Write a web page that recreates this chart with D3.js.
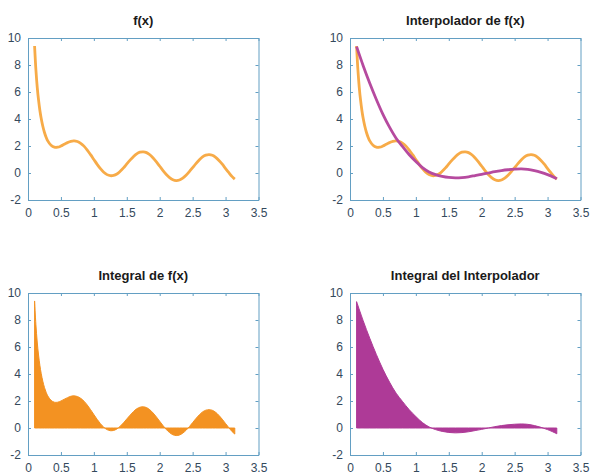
<!DOCTYPE html>
<html>
<head>
<meta charset="utf-8">
<script src="https://cdn.jsdelivr.net/npm/d3@7/dist/d3.min.js"></script>
<style>
  html, body { margin: 0; padding: 0; background: #fff; }
  svg { display: block; }
  .tick text { font-family: "Liberation Sans", Arial, sans-serif; font-size: 12px; fill: #34495c; }
  .title { font-family: "Liberation Sans", Arial, sans-serif; font-size: 13px; font-weight: bold; fill: #1a1a1a; }
</style>
</head>
<body>
<script>
// ---- data ----
const fX = [0.10,0.12,0.14,0.16,0.18,0.20,0.225,0.25,0.275,0.30,0.35,0.40,0.45,0.50,0.55,0.60,0.65,0.70,0.75,0.80,0.85,0.90,0.95,1.00,1.05,1.10,1.15,1.20,1.25,1.30,1.35,1.40,1.45,1.50,1.55,1.60,1.65,1.70,1.75,1.80,1.85,1.90,1.95,2.00,2.05,2.10,2.15,2.20,2.25,2.30,2.35,2.40,2.45,2.50,2.55,2.60,2.65,2.70,2.75,2.80,2.85,2.90,2.95,3.00,3.05,3.10,3.14];
const fY = [9.41,7.65,6.37,5.41,4.65,4.05,3.46,3.00,2.65,2.38,2.05,1.91,1.91,2.00,2.13,2.25,2.35,2.38,2.33,2.20,1.99,1.70,1.36,1.00,0.64,0.32,0.06,-0.12,-0.20,-0.18,-0.07,0.13,0.38,0.67,0.95,1.21,1.42,1.54,1.57,1.51,1.35,1.11,0.82,0.50,0.18,-0.11,-0.34,-0.50,-0.56,-0.52,-0.38,-0.17,0.10,0.40,0.70,0.97,1.19,1.32,1.36,1.31,1.16,0.93,0.65,0.33,0.02,-0.27,-0.45];

const pX = [0.10,0.20,0.30,0.40,0.50,0.60,0.70,0.80,0.90,1.00,1.10,1.20,1.30,1.40,1.50,1.60,1.70,1.80,1.90,2.00,2.10,2.20,2.30,2.40,2.50,2.60,2.70,2.80,2.90,3.00,3.10,3.14];
const pY = [9.36,7.95,6.65,5.45,4.35,3.40,2.58,1.95,1.35,0.85,0.40,0.08,-0.12,-0.25,-0.33,-0.36,-0.34,-0.28,-0.19,-0.10,0.00,0.10,0.18,0.24,0.28,0.30,0.27,0.18,0.05,-0.12,-0.33,-0.43];

const xTicks = [0,0.5,1,1.5,2,2.5,3,3.5];
const yTicks = [-2,0,2,4,6,8,10];
const titles = ["f(x)", "Interpolador de f(x)", "Integral de f(x)", "Integral del Interpolador"];

const fData = fX.map((x,i) => ({x, y: fY[i]}));
const pData = pX.map((x,i) => ({x, y: pY[i]}));

const W = 590, H = 476;
const svg = d3.select("body").append("svg").attr("width", W).attr("height", H);

const panels = [
  {l: 28,  r: 258.5, t: 38,  b: 200},
  {l: 350, r: 580.5, t: 38,  b: 200},
  {l: 28,  r: 258.5, t: 293, b: 455},
  {l: 350, r: 580.5, t: 293, b: 455}
];

const axisColor = "#639fc3";
const orangeLine = "#f7ab48";
const orangeFill = "#f39222";
const purpleLine = "#b64a9f";
const purpleFill = "#ae3a97";
const fmt = d => String(d);

panels.forEach((p, i) => {
  const g = svg.append("g");
  const x = d3.scaleLinear().domain([0, 3.5]).range([p.l, p.r]);
  const y = d3.scaleLinear().domain([-2, 10]).range([p.b, p.t]);

  const line = d3.line().x(d => x(d.x)).y(d => y(d.y)).curve(d3.curveCatmullRom);
  const area = d3.area().x(d => x(d.x)).y0(y(0)).y1(d => y(d.y)).curve(d3.curveCatmullRom);

  if (i === 0) {
    g.append("path").datum(fData).attr("d", line).attr("fill", "none")
      .attr("stroke", orangeLine).attr("stroke-width", 2.8).attr("stroke-linejoin", "round");
  } else if (i === 1) {
    g.append("path").datum(fData).attr("d", line).attr("fill", "none")
      .attr("stroke", orangeLine).attr("stroke-width", 2.8).attr("stroke-linejoin", "round");
    g.append("path").datum(pData).attr("d", line).attr("fill", "none")
      .attr("stroke", purpleLine).attr("stroke-width", 2.8).attr("stroke-linejoin", "round");
  } else if (i === 2) {
    g.append("path").datum(fData).attr("d", area).attr("fill", orangeFill)
      .attr("stroke", orangeFill).attr("stroke-width", 1);
  } else {
    g.append("path").datum(pData).attr("d", area).attr("fill", purpleFill)
      .attr("stroke", purpleFill).attr("stroke-width", 1);
  }

  // axes with inward ticks
  const ax = [
    g.append("g").attr("transform", `translate(0,${p.b})`)
      .call(d3.axisBottom(x).tickValues(xTicks).tickFormat(fmt).tickSizeInner(-3).tickSizeOuter(0).tickPadding(8)),
    g.append("g").attr("transform", `translate(0,${p.t})`)
      .call(d3.axisTop(x).tickValues(xTicks).tickFormat("").tickSizeInner(-3).tickSizeOuter(0)),
    g.append("g").attr("transform", `translate(${p.l},0)`)
      .call(d3.axisLeft(y).tickValues(yTicks).tickFormat(fmt).tickSizeInner(-3).tickSizeOuter(0).tickPadding(7)),
    g.append("g").attr("transform", `translate(${p.r},0)`)
      .call(d3.axisRight(y).tickValues(yTicks).tickFormat("").tickSizeInner(-3).tickSizeOuter(0))
  ];
  ax.forEach(a => {
    a.select(".domain").attr("stroke", axisColor);
    a.selectAll(".tick line").attr("stroke", axisColor);
    a.selectAll(".tick text").attr("fill", "#34495c").style("font-size", "12px");
  });
  ax[0].selectAll(".tick text").attr("dy", "0.71em");

  g.append("text").attr("class", "title")
    .attr("x", (p.l + p.r) / 2).attr("y", p.t - 13)
    .attr("text-anchor", "middle").text(titles[i]);
});
</script>
</body>
</html>
